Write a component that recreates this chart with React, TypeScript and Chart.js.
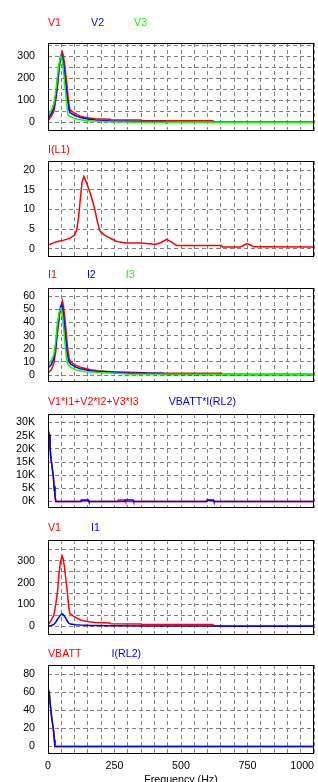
import React, { useEffect, useRef } from 'react';
import { Chart, registerables } from 'chart.js';

Chart.register(...registerables);

// ---------- colours / fonts ----------
const RED = '#ff0000';
const BLUE = '#0000ff';
const GREEN = '#00ff00';
const GRID_COLOR = '#808080';
const GRID_DASH = [4, 3];
const FONT = { family: 'Arial, "Liberation Sans", sans-serif', size: 10.67 };

// ---------- x axis (frequency) ----------
const X_MIN = 0;
const X_MAX = 1000;
const X_GRID = [0, 50, 100, 150, 200, 250, 300, 350, 400, 450, 500, 550, 600, 650, 700, 750, 800, 850, 900, 950, 1000];
const X_TICK_LABELS = [0, 250, 500, 750, 1000];
const X_TITLE = 'Frequency (Hz)';

// ---------- panel 1 : V1, V2, V3 ----------
const v1Freq = [0, 12.5, 22, 29, 35, 41, 47, 54, 57, 62, 67, 72, 77, 82, 87, 97, 110, 122, 135, 154, 179, 233, 235, 350, 352, 620, 622, 1000];
const v1Val = [8, 28, 51, 100, 150, 234, 298, 320, 308, 270, 215, 165, 100, 58, 54, 45, 36, 29, 25, 21, 17, 15, 12, 11, 8, 8, 1, 1];
const v2Freq = [0, 12.5, 22, 29, 35, 41, 47, 52, 57, 62, 67, 72, 77, 82, 87, 97, 110, 122, 135, 154, 179, 235, 350, 440, 442, 1000];
const v2Val = [18, 40, 68, 120, 175, 245, 295, 305, 280, 230, 175, 120, 70, 45, 42, 35, 28, 23, 19, 15, 11, 7, 5, 5, 1, 1];
const v3Freq = [0, 12.5, 22, 29, 35, 41, 47, 50, 55, 60, 65, 70, 75, 82, 97, 110, 122, 135, 154, 179, 235, 350, 1000];
const v3Val = [30, 55, 85, 140, 205, 265, 298, 300, 270, 210, 150, 90, 35, 28, 20, 15, 12, 10, 8, 6, 3, 1.5, 1];

// ---------- panel 2 : I(L1) ----------
const iL1Freq = [0, 20, 39, 60, 83, 100, 108, 115, 122, 128, 135, 145, 160, 173, 185, 195, 210, 223, 240, 254, 270, 292, 348, 390, 405, 425, 446, 465, 484, 653, 655, 722, 736, 749, 762, 774, 1000];
const iL1Val = [0.85, 1.5, 1.9, 2.2, 2.7, 3.5, 4.8, 8, 13, 17, 18.4, 16.8, 13.9, 10.9, 7.1, 4.5, 3.6, 3.1, 2.5, 2.0, 1.7, 1.5, 1.45, 1.2, 1.1, 1.6, 2.4, 1.7, 0.85, 0.85, 0.43, 0.43, 0.9, 1.35, 0.9, 0.5, 0.45];

// ---------- panel 3 : I1, I2, I3 ----------
const i1Freq = [0, 12.5, 22, 29, 35, 41, 47, 54, 57, 62, 67, 72, 79, 85, 104, 122, 141, 160, 185, 235, 370, 372, 652, 655, 1000];
const i1Val = [1.5, 4, 9, 18, 31, 41, 51, 56.5, 54, 46, 36, 24, 13, 10, 7.5, 6, 5, 4, 3.3, 2.5, 1.8, 1.4, 1.4, 0.4, 0.4];
const i2Freq = [0, 12.5, 22, 29, 35, 41, 47, 52, 57, 62, 67, 72, 79, 85, 104, 122, 141, 160, 185, 235, 293, 432, 435, 1000];
const i2Val = [5.4, 8, 12.5, 22, 35, 45, 52, 53.5, 48, 38, 27, 16, 10, 8.5, 6, 4.8, 4, 3.3, 2.8, 2.2, 1.4, 1.4, 0.4, 0.4];
const i3Freq = [0, 12.5, 22, 29, 35, 41, 47, 50, 55, 60, 65, 70, 75, 85, 104, 122, 141, 185, 235, 300, 1000];
const i3Val = [7.5, 11, 15.6, 26, 39, 47, 51, 51, 44, 33, 22, 12, 8, 6, 4, 3, 2.5, 2, 1.5, 0.8, 0.4];

// ---------- panel 4 : power ----------
const pSumFreq = [0, 4, 7.5, 10, 15, 20, 22.6, 26, 29, 125, 127, 152, 154, 262, 264, 290, 292, 595, 597, 620, 622, 1000];
const pSumVal = [28000, 25400, 21500, 17200, 13400, 9600, 5800, 2700, 0, 0, 300, 300, 0, 0, 600, 600, 0, 0, 400, 400, 0, 0];
const pBattFreq = [0, 4, 7.5, 10, 15, 20, 22.6, 26, 29, 123, 125, 152, 154, 288, 290, 320, 322, 597, 599, 622, 624, 1000];
const pBattVal = [27300, 25400, 21000, 17200, 13400, 9600, 5800, 2700, 0, 0, 600, 600, 0, 0, 600, 600, 0, 0, 600, 600, 0, 0];

// ---------- panel 6 : VBATT, I(RL2) ----------
const dcFreq = [0, 5, 10, 15, 20, 24, 26, 1000];
const vBattVal = [64, 58, 41, 29, 19.5, 7, 0, 0];
const iRL2Val = [65, 59, 42, 29.5, 20, 7.4, 0, 0];

// ---------- y ticks ----------
const yTicks300 = [0, 50, 100, 150, 200, 250, 300, 350];
const yLabels300 = [0, 100, 200, 300];
const yTicks20 = [0, 5, 10, 15, 20];
const yTicks60 = [0, 10, 20, 30, 40, 50, 60];
const yTicks30K = [0, 5000, 10000, 15000, 20000, 25000, 30000];
const yTicks80 = [0, 20, 40, 60, 80];

type Series = { label: string; color: string; freq: number[]; values: number[] };
type PanelDef = {
  series: Series[];
  yMin: number;
  yMax: number;
  yTicks: number[];
  yLabels: number[];
  fmt: (v: number) => string;
  showX: boolean;
};

const plain = (v: number) => String(v);
const kilo = (v: number) => `${v / 1000}K`;

const PANELS: PanelDef[] = [
  {
    series: [
      { label: 'V1', color: RED, freq: v1Freq, values: v1Val },
      { label: 'V2', color: BLUE, freq: v2Freq, values: v2Val },
      { label: 'V3', color: GREEN, freq: v3Freq, values: v3Val },
    ],
    yMin: -38.6, yMax: 361.4, yTicks: yTicks300, yLabels: yLabels300, fmt: plain, showX: false,
  },
  {
    series: [{ label: 'I(L1)', color: RED, freq: iL1Freq, values: iL1Val }],
    yMin: -2.09, yMax: 22.34, yTicks: yTicks20, yLabels: yTicks20, fmt: plain, showX: false,
  },
  {
    series: [
      { label: 'I1', color: RED, freq: i1Freq, values: i1Val },
      { label: 'I2', color: BLUE, freq: i2Freq, values: i2Val },
      { label: 'I3', color: GREEN, freq: i3Freq, values: i3Val },
    ],
    yMin: -5.33, yMax: 66.26, yTicks: yTicks60, yLabels: yTicks60, fmt: plain, showX: false,
  },
  {
    series: [
      { label: 'V1*I1+V2*I2+V3*I3', color: RED, freq: pSumFreq, values: pSumVal },
      { label: 'VBATT*I(RL2)', color: BLUE, freq: pBattFreq, values: pBattVal },
    ],
    yMin: -2470, yMax: 33230, yTicks: yTicks30K, yLabels: yTicks30K, fmt: kilo, showX: false,
  },
  {
    series: [
      { label: 'V1', color: RED, freq: v1Freq, values: v1Val },
      { label: 'I1', color: BLUE, freq: i1Freq, values: i1Val },
    ],
    yMin: -39.8, yMax: 394.6, yTicks: yTicks300, yLabels: yLabels300, fmt: plain, showX: false,
  },
  {
    series: [
      { label: 'VBATT', color: RED, freq: dcFreq, values: vBattVal },
      { label: 'I(RL2)', color: BLUE, freq: dcFreq, values: iRL2Val },
    ],
    yMin: -8.28, yMax: 90.06, yTicks: yTicks80, yLabels: yTicks80, fmt: plain, showX: true,
  },
];

// page layout (pixels): legend line, plot box top and bottom (exclusive)
const LAYOUT = [
  { legendY: 23, top: 43, bottom: 131 },
  { legendY: 150, top: 161, bottom: 257 },
  { legendY: 275, top: 288, bottom: 382 },
  { legendY: 402, top: 414, bottom: 508 },
  { legendY: 528, top: 540, bottom: 635 },
  { legendY: 654, top: 665, bottom: 754 },
];
const PAGE_W = 318;
const PAGE_H = 782;
const PLOT_LEFT = 48;
const PLOT_RIGHT = 314;

const seriesLabels = {
  id: 'seriesLabels',
  afterDraw(chart: any, _args: any, opts: any) {
    const ctx = chart.ctx;
    ctx.save();
    ctx.font = `${FONT.size}px ${FONT.family}`;
    ctx.textBaseline = 'middle';
    ctx.textAlign = 'left';
    let x = chart.chartArea.left;
    chart.data.datasets.forEach((ds: any) => {
      ctx.fillStyle = ds.borderColor;
      ctx.fillText(ds.label, x, opts.y);
      x += ctx.measureText(ds.label).width + opts.gap;
    });
    ctx.restore();
  },
};

const frameBox = {
  id: 'frameBox',
  afterDatasetsDraw(chart: any) {
    const { left, top, right, bottom } = chart.chartArea;
    const ctx = chart.ctx;
    ctx.save();
    ctx.strokeStyle = '#000';
    ctx.lineWidth = 1;
    ctx.strokeRect(left + 0.5, top + 0.5, right - left - 1, bottom - top - 1);
    ctx.restore();
  },
};

function Panel({ def, lay }: { def: PanelDef; lay: { legendY: number; top: number; bottom: number } }) {
  const ref = useRef<HTMLCanvasElement>(null);
  const y0 = lay.legendY - 12;
  const height = def.showX ? PAGE_H - y0 : lay.bottom + 2 - y0;
  const xAxisH = def.showX ? PAGE_H - lay.bottom : 0;

  useEffect(() => {
    const grid = { color: GRID_COLOR, lineWidth: 1, drawTicks: false };
    const border = { display: false, dash: GRID_DASH };
    const scales: any = {
      x: {
        type: 'linear',
        min: X_MIN,
        max: X_MAX,
        afterBuildTicks: (s: any) => { s.ticks = X_GRID.map((v) => ({ value: v })); },
        ticks: { display: false },
        grid,
        border,
        afterFit: (s: any) => { s.paddingLeft = 0; s.paddingRight = 0; },
      },
      y: {
        type: 'linear',
        min: def.yMin,
        max: def.yMax,
        afterBuildTicks: (s: any) => { s.ticks = def.yTicks.map((v) => ({ value: v })); },
        ticks: {
          autoSkip: false,
          padding: 13,
          color: '#000',
          font: FONT,
          callback: (v: any) => (def.yLabels.includes(Number(v)) ? def.fmt(Number(v)) : ''),
        },
        grid,
        border,
        afterFit: (s: any) => { s.width = PLOT_LEFT; s.paddingTop = 0; s.paddingBottom = 0; },
      },
    };
    if (def.showX) {
      scales.x2 = {
        type: 'linear',
        position: 'bottom',
        min: X_MIN,
        max: X_MAX,
        afterBuildTicks: (s: any) => {
          s.ticks = [{ value: X_MIN }, ...X_TICK_LABELS.map((v) => ({ value: v }))];
        },
        ticks: {
          autoSkip: false,
          maxRotation: 0,
          align: 'inner',
          padding: 6,
          color: '#000',
          font: FONT,
          callback: (v: any, i: number) => (i === 0 ? '' : String(v)),
        },
        grid: { display: false, drawTicks: false },
        border: { display: false },
        title: { display: true, text: X_TITLE, color: '#000', font: FONT, padding: { top: 0, bottom: -4 } },
        afterFit: (s: any) => { s.height = xAxisH; s.paddingLeft = 0; s.paddingRight = 0; },
      };
    }

    const chart = new Chart(ref.current as HTMLCanvasElement, {
      type: 'line',
      data: {
        datasets: def.series.map((s, idx) => ({
          label: s.label,
          data: s.freq.map((f, i) => ({ x: f, y: s.values[i] })),
          borderColor: s.color,
          backgroundColor: s.color,
          borderWidth: 1.5,
          pointRadius: 0,
          tension: 0,
          fill: false,
          order: -idx,
        })),
      },
      options: {
        animation: false,
        responsive: false,
        devicePixelRatio: 1,
        events: [],
        layout: {
          padding: {
            left: 0,
            right: PAGE_W - PLOT_RIGHT,
            top: lay.top - y0,
            bottom: def.showX ? 0 : y0 + height - lay.bottom,
          },
        },
        plugins: {
          legend: { display: false },
          tooltip: { enabled: false },
          seriesLabels: { y: lay.legendY - y0, gap: 30 },
        } as any,
        scales,
      },
      plugins: [seriesLabels, frameBox],
    });
    return () => chart.destroy();
  }, []);

  return (
    <canvas
      ref={ref}
      width={PAGE_W}
      height={height}
      style={{ position: 'absolute', left: 0, top: y0, width: PAGE_W, height }}
    />
  );
}

export default function App() {
  return (
    <div
      style={{
        position: 'absolute',
        left: 0,
        top: 0,
        width: PAGE_W,
        height: PAGE_H,
        overflow: 'hidden',
        background: '#fff',
      }}
    >
      {PANELS.map((p, i) => (
        <Panel key={i} def={p} lay={LAYOUT[i]} />
      ))}
    </div>
  );
}
